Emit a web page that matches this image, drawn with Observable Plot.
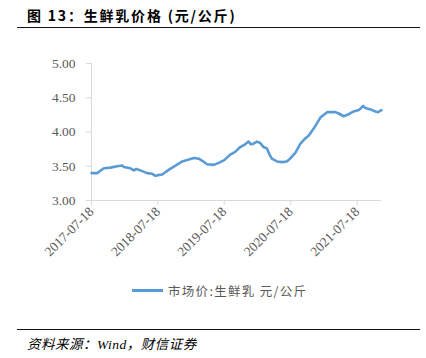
<!DOCTYPE html>
<html>
<head>
<meta charset="utf-8">
<script src="https://cdn.jsdelivr.net/npm/d3@7"></script>
<script src="https://cdn.jsdelivr.net/npm/@observablehq/plot@0.6"></script>
<style>
  body { margin: 0; background: #fff; width: 426px; height: 358px; overflow: hidden; position: relative; }
  #title { position: absolute; left: 27px; top: 5px; font-family: "Noto Sans CJK SC", sans-serif; font-weight: bold; font-size: 14px; color: #000; letter-spacing: 1.8px; white-space: nowrap; }
  .rule { position: absolute; left: 17px; width: 403px; height: 0; border-top: 1.5px solid #111; }
  #chart { position: absolute; left: 0; top: 0; }
  #chart svg text { font-family: "Liberation Serif", "Times New Roman", serif !important; }
  #legend { position: absolute; left: 132px; top: 281px; display: flex; align-items: center; font-family: "Noto Sans CJK SC", sans-serif; font-size: 12.5px; color: #595959; letter-spacing: 1.3px; white-space: nowrap; }
  #legend .sw { width: 31px; height: 3px; background: #5B9BD5; margin-right: 5px; }
  #footer { position: absolute; left: 27px; top: 333px; font-family: "Liberation Serif", "Noto Sans CJK SC", serif; font-style: italic; font-size: 13.5px; color: #000; letter-spacing: 0.5px; white-space: nowrap; }
</style>
</head>
<body>
<div id="title">图 13：生鲜乳价格 (元/公斤)</div>
<div class="rule" style="top:27px"></div>
<div id="chart"></div>
<div id="legend"><div class="sw"></div><span>市场价:生鲜乳 元/公斤</span></div>
<div class="rule" style="top:329px"></div>
<div id="footer">资料来源：Wind，财信证券</div>
<script>
const dates = ["2017-07-18","2017-08-18","2017-09-24","2017-10-30","2017-12-06","2018-01-03","2018-01-12","2018-02-17","2018-03-08","2018-03-22","2018-04-13","2018-05-20","2018-06-17","2018-07-05","2018-07-18","2018-08-11","2018-09-17","2018-10-23","2018-11-29","2018-12-26","2019-02-01","2019-02-28","2019-03-19","2019-04-15","2019-05-22","2019-06-18","2019-07-18","2019-08-20","2019-09-16","2019-10-14","2019-11-10","2019-11-29","2019-12-12","2019-12-26","2020-01-14","2020-02-01","2020-02-19","2020-03-09","2020-03-23","2020-04-05","2020-05-03","2020-05-30","2020-06-26","2020-07-14","2020-08-13","2020-09-09","2020-10-07","2020-10-25","2020-11-21","2020-12-28","2021-02-03","2021-03-21","2021-04-08","2021-05-05","2021-06-02","2021-06-29","2021-07-27","2021-08-20","2021-09-02","2021-09-29","2021-10-27","2021-11-10","2021-11-29"];
const prices = [3.40,3.40,3.47,3.48,3.50,3.51,3.49,3.47,3.44,3.46,3.44,3.40,3.39,3.36,3.37,3.38,3.45,3.51,3.57,3.59,3.62,3.61,3.58,3.53,3.52,3.55,3.59,3.67,3.71,3.78,3.82,3.86,3.82,3.83,3.86,3.84,3.78,3.76,3.67,3.61,3.57,3.56,3.57,3.61,3.70,3.83,3.91,3.95,4.05,4.21,4.29,4.29,4.27,4.23,4.26,4.30,4.32,4.38,4.35,4.33,4.30,4.29,4.32];
const xTicks = ["2017-07-18","2018-07-18","2019-07-18","2020-07-18","2021-07-18"];
const yTicks = [3.00,3.50,4.00,4.50,5.00];

const parse = d3.utcParse("%Y-%m-%d");
const data = dates.map((d, i) => ({date: parse(d), value: prices[i]}));
const xDomain = [parse(dates[0]), parse(dates[dates.length - 1])];
const axisColor = "#d9d9d9";

const chart = Plot.plot({
  width: 426,
  height: 270,
  marginLeft: 91,
  marginRight: 45,
  marginTop: 63,
  marginBottom: 70,
  style: {fontFamily: "'Liberation Serif', serif", fontSize: "13.5px", color: "#595959", background: "transparent"},
  x: {type: "utc", domain: xDomain},
  y: {domain: [3, 5]},
  marks: [
    Plot.ruleY([3], {stroke: axisColor, strokeWidth: 1}),
    Plot.ruleX([xDomain[0]], {stroke: axisColor, strokeWidth: 1}),
    Plot.axisY({ticks: yTicks, tickFormat: d3.format(".2f"), tickSize: 5, tickPadding: 11, stroke: axisColor, fill: "#595959", label: null}),
    Plot.axisX({ticks: xTicks.map(parse), tickFormat: d3.utcFormat("%Y-%m-%d"), tickSize: 5, tickPadding: 4, tickRotate: -45, stroke: axisColor, fill: "#595959", label: null}),
    Plot.line(data, {x: "date", y: "value", stroke: "#5B9BD5", strokeWidth: 2.6, curve: "linear"})
  ]
});
document.getElementById("chart").appendChild(chart);
</script>
</body>
</html>
